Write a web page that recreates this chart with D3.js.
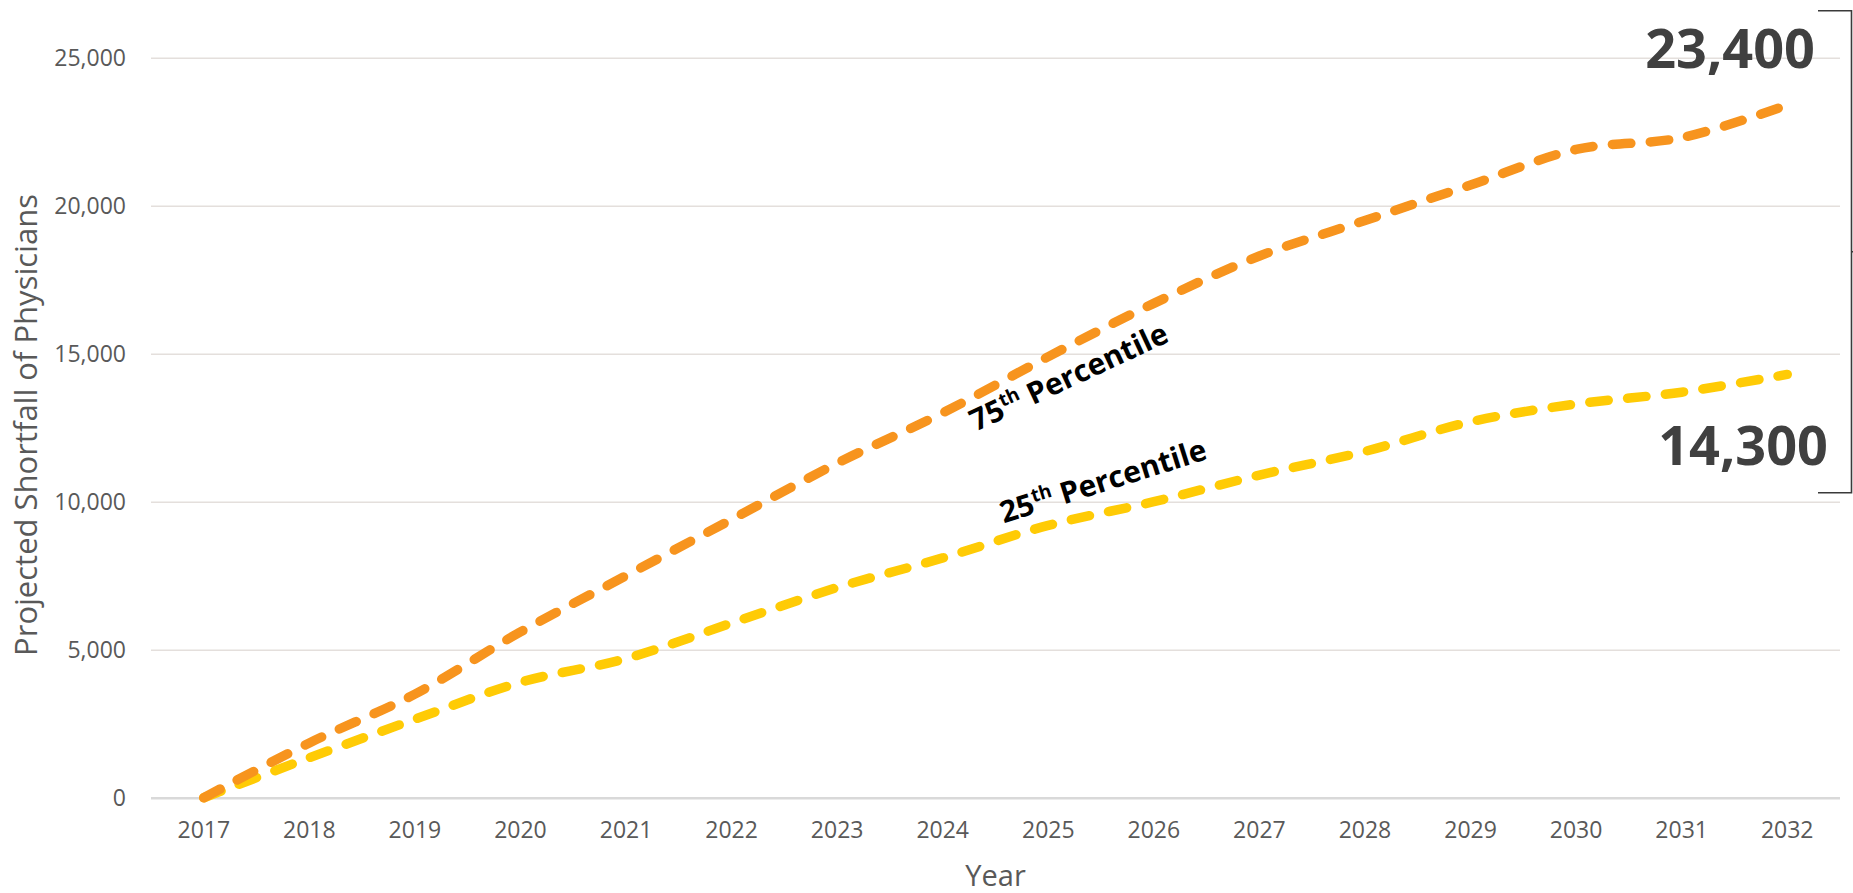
<!DOCTYPE html>
<html>
<head>
<meta charset="utf-8">
<script src="https://cdn.jsdelivr.net/npm/d3@7"></script>
<style>
  html, body { margin: 0; padding: 0; background: #ffffff; }
  svg { display: block; }
  text { font-family: "Open Sans", "Liberation Sans", sans-serif; }
</style>
</head>
<body>
<svg id="chart" width="1853" height="893"></svg>
<script>
// ---- data ----
const years = ["2017","2018","2019","2020","2021","2022","2023","2024","2025","2026","2027","2028","2029","2030","2031","2032"];
const p75 = [0, 1850, 3500, 5600, 7500, 9400, 11300, 13000, 14900, 16700, 18300, 19500, 20700, 21900, 22300, 23400];
const p25 = [0, 1350, 2650, 3900, 4700, 5900, 7100, 8100, 9200, 10000, 10900, 11700, 12700, 13300, 13700, 14300];
const yTicks = [0, 5000, 10000, 15000, 20000, 25000];
const seriesNames = ["25th Percentile", "75th Percentile"];
const endLabels = ["23,400", "14,300"];

// ---- layout ----
const plot = { left: 151, right: 1840, top: 57.7, bottom: 797.7 };
const svg = d3.select("#chart");

const x = d3.scaleBand().domain(years).range([plot.left, plot.right]).paddingInner(0).paddingOuter(0);
const cx = d => x(d) + x.bandwidth() / 2;
const y = d3.scaleLinear().domain([0, 25000]).range([plot.bottom, plot.top]);

// gridlines
const yAxis = d3.axisLeft(y).tickValues(yTicks).tickSize(-(plot.right - plot.left)).tickFormat(d3.format(","));
const gy = svg.append("g").attr("transform", `translate(${plot.left},0)`).call(yAxis);
gy.select(".domain").remove();
gy.selectAll(".tick line").attr("stroke", d => d === 0 ? "#d9d9d9" : "#e4dfdc").attr("stroke-width", d => d === 0 ? 2.5 : 1.5);
gy.selectAll(".tick text").attr("x", -25).attr("fill", "#595959").attr("font-size", 23).attr("dy", "0.35em");

// x axis labels
const xAxis = d3.axisBottom(x).tickSize(0).tickPadding(0);
const gx = svg.append("g").attr("transform", `translate(0,${plot.bottom})`).call(xAxis);
gx.select(".domain").remove();
gx.selectAll(".tick text").attr("y", 40).attr("dy", 0).attr("fill", "#595959").attr("font-size", 23);

// axis titles
svg.append("text").attr("transform", `translate(37,425) rotate(-90)`).attr("text-anchor", "middle")
  .attr("fill", "#595959").attr("font-size", 31).text("Projected Shortfall of Physicians");
svg.append("text").attr("x", (plot.left + plot.right) / 2).attr("y", 886).attr("text-anchor", "middle")
  .attr("fill", "#595959").attr("font-size", 29).text("Year");

// lines
const line = d3.line().x((d, i) => cx(years[i])).y(d => y(d)).curve(d3.curveCatmullRom.alpha(0));
const series = [ { vals: p25, color: "#ffcb05" }, { vals: p75, color: "#f7941e" } ];
svg.selectAll("path.series").data(series).enter().append("path")
  .attr("class", "series")
  .attr("d", d => line(d.vals))
  .attr("fill", "none")
  .attr("stroke", d => d.color)
  .attr("stroke-width", 9.5)
  .attr("stroke-linecap", "round")
  .attr("stroke-dasharray", "18.5,19.5");

// series labels
function seriesLabel(num, px, py, angle) {
  const t = svg.append("text").attr("transform", `translate(${px},${py}) rotate(${angle})`)
    .attr("font-size", 30).attr("font-weight", 700).attr("fill", "#000");
  t.append("tspan").text(num);
  t.append("tspan").attr("font-size", 19).attr("dy", -11).text("th");
  t.append("tspan").attr("dy", 11).text(" Percentile");
}
seriesLabel("75", cx("2024") + 33, y(12360), -25);
seriesLabel("25", cx("2024") + 61, y(9270), -17.5);

// end value labels
svg.append("text").attr("x", 1815).attr("y", 68).attr("text-anchor", "end")
  .attr("font-size", 54).attr("font-weight", 700).attr("fill", "#404040").text(endLabels[0]);
svg.append("text").attr("x", 1828).attr("y", 465).attr("text-anchor", "end")
  .attr("font-size", 54).attr("font-weight", 700).attr("fill", "#404040").text(endLabels[1]);

// bracket
svg.append("path").attr("d", "M1818,10.7 H1851.5 V492.7 H1818 M1851.5,251.7 H1856")
  .attr("fill", "none").attr("stroke", "#3a3a3a").attr("stroke-width", 1.6);
</script>
</body>
</html>
